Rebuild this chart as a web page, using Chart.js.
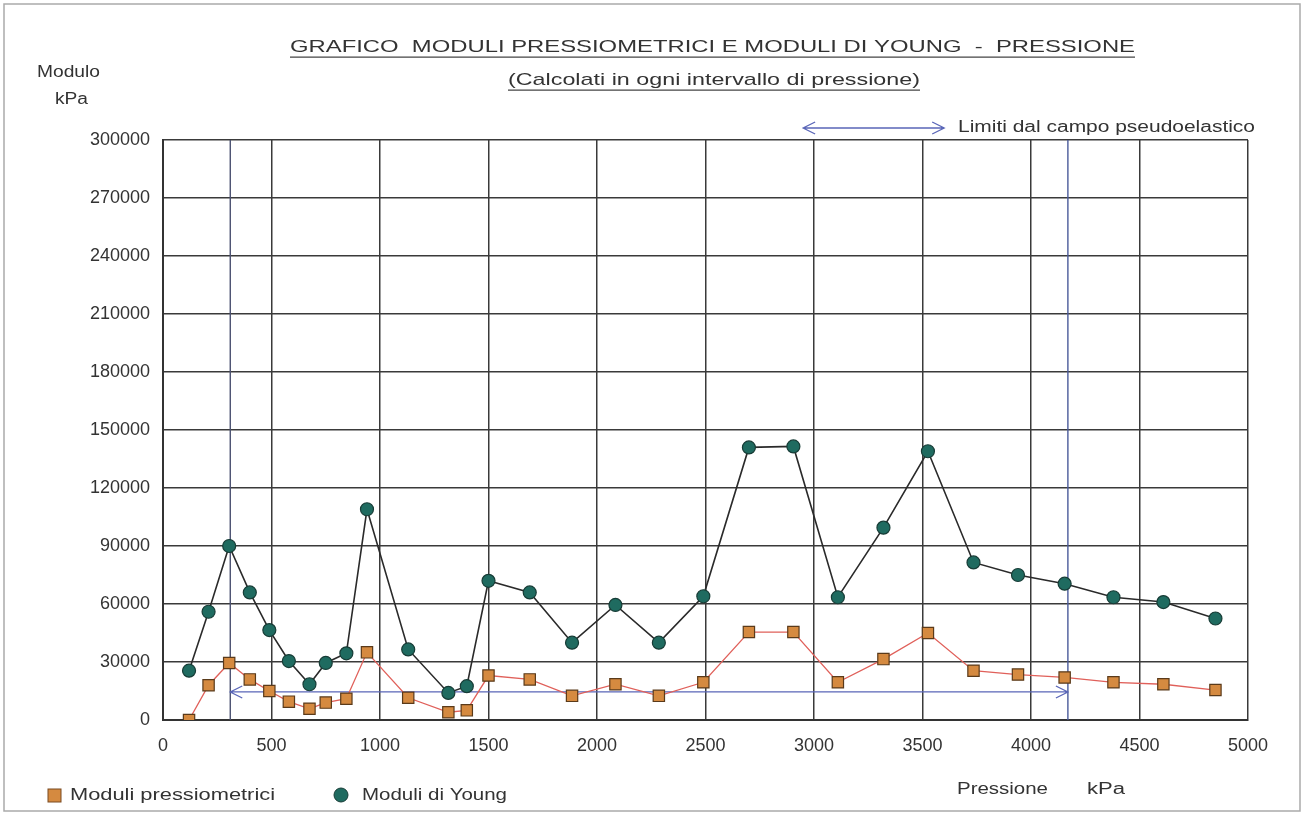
<!DOCTYPE html>
<html>
<head>
<meta charset="utf-8">
<script src="https://cdn.jsdelivr.net/npm/chart.js"></script>
<style>
html, body { margin: 0; background: #fff; }
#wrap { width: 1304px; height: 815px; position: relative; }
</style>
</head>
<body>
<div id="wrap"><canvas id="myChart"></canvas></div>
<script>
// pressione (kPa)
var pressioni = [120, 210, 305, 400, 490, 580, 675, 750, 845, 940,
	1130, 1315, 1400, 1500, 1690, 1885, 2085, 2285, 2490, 2700,
	2905, 3110, 3320, 3525, 3735, 3940, 4155, 4380, 4610, 4850];
var moduliPressiometrici = [0, 18000, 29500, 21000, 15000, 9500, 5800, 9000, 11000, 35000,
	11500, 4000, 5000, 23000, 21000, 12500, 18500, 12500, 19500, 45500,
	45500, 19500, 31500, 45000, 25500, 23500, 22000, 19500, 18500, 15500];
var moduliYoung = [25500, 56000, 90000, 66000, 46500, 30500, 18500, 29500, 34500, 109000,
	36500, 14000, 17500, 72000, 66000, 40000, 59500, 40000, 64000, 141000,
	141500, 63500, 99500, 139000, 81500, 75000, 70500, 63500, 61000, 52500];

// limiti del campo pseudoelastico
var limiteInf = 310;
var limiteSup = 4170;
var quotaFreccia = 14500;

var FONT = '"Liberation Sans", Arial, sans-serif';

function punti(ys) {
	return pressioni.map(function (p, i) { return { x: p, y: ys[i] }; });
}

// text stretched to span x1..x2
function fitText(ctx, txt, x1, x2, yMid, size, underline) {
	ctx.save();
	ctx.font = size + 'px ' + FONT;
	var w = ctx.measureText(txt).width;
	ctx.translate(x1, yMid);
	ctx.scale((x2 - x1) / w, 1);
	ctx.textBaseline = 'middle';
	ctx.fillStyle = '#333';
	ctx.fillText(txt, 0, 0);
	ctx.restore();
	if (underline) {
		ctx.save();
		ctx.strokeStyle = '#444';
		ctx.lineWidth = 1.2;
		ctx.beginPath();
		ctx.moveTo(x1, yMid + size * 0.6);
		ctx.lineTo(x2, yMid + size * 0.6);
		ctx.stroke();
		ctx.restore();
	}
}

function freccia(ctx, xa, xb, y) {
	ctx.save();
	ctx.strokeStyle = '#5a66b8';
	ctx.lineWidth = 1.3;
	ctx.beginPath();
	ctx.moveTo(xa, y);
	ctx.lineTo(xb, y);
	ctx.moveTo(xa + 12, y - 6);
	ctx.lineTo(xa, y);
	ctx.lineTo(xa + 12, y + 6);
	ctx.moveTo(xb - 12, y - 6);
	ctx.lineTo(xb, y);
	ctx.lineTo(xb - 12, y + 6);
	ctx.stroke();
	ctx.restore();
}

var decorazioni = {
	id: 'decorazioni',
	beforeDatasetsDraw: function (chart) {
		var ctx = chart.ctx;
		var sx = chart.scales.x, sy = chart.scales.y;
		var a = chart.chartArea;
		ctx.save();
		ctx.lineWidth = 1.4;
		[[limiteInf, '#4a5070'], [limiteSup, '#4a5a9a']].forEach(function (l) {
			var px = sx.getPixelForValue(l[0]);
			ctx.strokeStyle = l[1];
			ctx.beginPath();
			ctx.moveTo(px, a.top);
			ctx.lineTo(px, a.bottom);
			ctx.stroke();
		});
		ctx.restore();
		freccia(ctx, sx.getPixelForValue(limiteInf), sx.getPixelForValue(limiteSup), sy.getPixelForValue(quotaFreccia));
	},
	afterDraw: function (chart) {
		var ctx = chart.ctx;
		var sx = chart.scales.x;
		// cornice
		ctx.save();
		ctx.strokeStyle = '#aaa';
		ctx.lineWidth = 1.5;
		ctx.strokeRect(4, 4, 1296, 807);
		ctx.restore();

		fitText(ctx, 'GRAFICO  MODULI PRESSIOMETRICI E MODULI DI YOUNG  -  PRESSIONE', 290, 1135, 47, 17, true);
		fitText(ctx, '(Calcolati in ogni intervallo di pressione)', 508, 920, 80, 17, true);
		fitText(ctx, 'Modulo', 37, 100, 73, 16);
		fitText(ctx, 'kPa', 55, 88, 100, 16);

		freccia(ctx, sx.getPixelForValue(2950), sx.getPixelForValue(3600), 128);
		fitText(ctx, 'Limiti dal campo pseudoelastico', 958, 1255, 128, 16);

		fitText(ctx, 'Pressione', 957, 1048, 790, 16);
		fitText(ctx, 'kPa', 1087, 1125, 790, 16);

		// legenda
		ctx.save();
		ctx.fillStyle = '#d58a40';
		ctx.strokeStyle = '#7a4a20';
		ctx.lineWidth = 1;
		ctx.fillRect(48, 789, 13, 13);
		ctx.strokeRect(48, 789, 13, 13);
		ctx.fillStyle = '#1f6b60';
		ctx.strokeStyle = '#173c36';
		ctx.beginPath();
		ctx.arc(341, 795, 7, 0, Math.PI * 2);
		ctx.fill();
		ctx.stroke();
		ctx.restore();
		fitText(ctx, 'Moduli pressiometrici', 70, 275, 796, 16);
		fitText(ctx, 'Moduli di Young', 362, 507, 796, 16);
	}
};

function senzaSeparatore(v) { return String(v); }

new Chart('myChart', {
	type: 'scatter',
	data: {
		datasets: [
			{
				label: 'Moduli di Young',
				data: punti(moduliYoung),
				showLine: true,
				borderColor: '#2a2a2a',
				borderWidth: 1.6,
				pointStyle: 'circle',
				pointRadius: 6.5,
				pointBackgroundColor: '#1f6b60',
				pointBorderColor: '#173c36',
				pointBorderWidth: 1.2,
				tension: 0,
			},
			{
				label: 'Moduli pressiometrici',
				data: punti(moduliPressiometrici),
				showLine: true,
				borderColor: '#e0605a',
				borderWidth: 1.3,
				pointStyle: 'rect',
				pointRadius: 8,
				pointBackgroundColor: '#d58a40',
				pointBorderColor: '#5a3a1a',
				pointBorderWidth: 1.2,
				tension: 0,
			},
		],
	},
	options: {
		responsive: true,
		maintainAspectRatio: false,
		animation: false,
		layout: { padding: { left: 0, top: 140, right: 56, bottom: 0 } },
		plugins: {
			legend: { display: false },
			title: { display: false },
			tooltip: { enabled: false },
		},
		scales: {
			x: {
				type: 'linear',
				min: 0,
				max: 5000,
				afterFit: function (s) { s.height = 95; },
				ticks: { stepSize: 500, padding: 15, color: '#333', callback: senzaSeparatore, font: { family: FONT, size: 18 } },
				grid: { color: '#3a3a3a', lineWidth: 1.5, drawTicks: false },
				border: { color: '#333', width: 2 },
			},
			y: {
				min: 0,
				max: 300000,
				afterFit: function (s) { s.width = 163; },
				ticks: { stepSize: 30000, padding: 13, color: '#333', callback: senzaSeparatore, font: { family: FONT, size: 18 } },
				grid: { color: '#3a3a3a', lineWidth: 1.5, drawTicks: false },
				border: { color: '#333', width: 2 },
			},
		},
	},
	plugins: [decorazioni],
});
</script>
</body>
</html>
